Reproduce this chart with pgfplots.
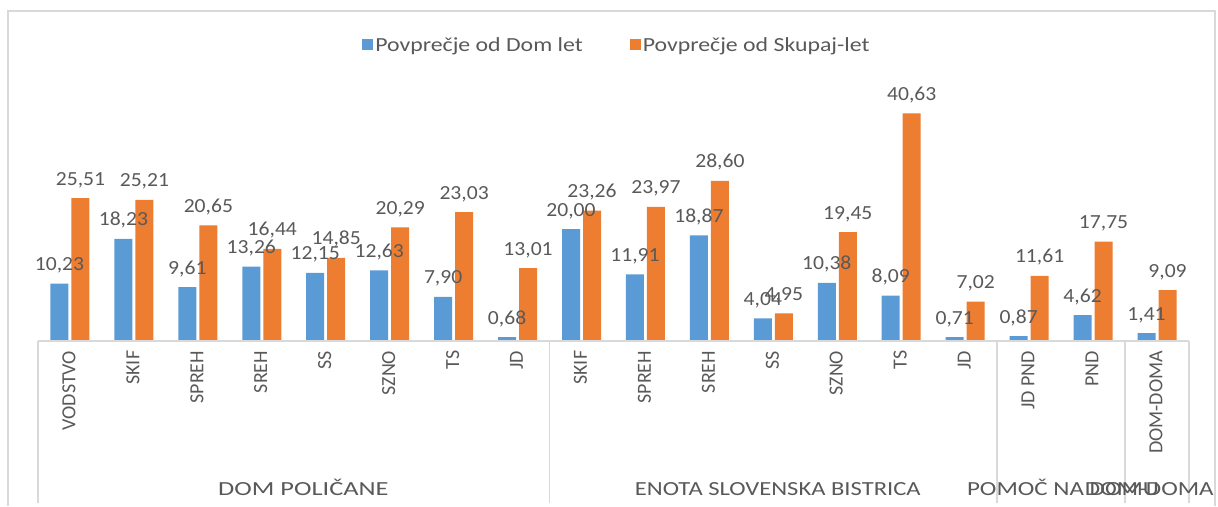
\documentclass[border=0pt]{standalone}
\usepackage{pgfplots}
\pgfplotsset{compat=1.18}
\usepackage{graphicx}
\usepackage{fontspec}
\setmainfont{Carlito}
\newfontfamily\lblfont{Carlito}[FakeStretch=1.08]
\newfontfamily\legfont{Carlito}[FakeStretch=1.19]
\definecolor{xblue}{HTML}{5B9BD5}
\definecolor{xorange}{HTML}{ED7D31}
\definecolor{xtext}{HTML}{595959}
\definecolor{xline}{HTML}{D9D9D9}
\begin{document}
\begin{tikzpicture}
\draw[xline, line width=1.5pt] (8pt,-506pt) -- (8pt,-11pt) -- (1215pt,-11pt) -- (1215pt,-506pt);
\begin{axis}[
  at={(38pt,-341pt)}, anchor=south west,
  scale only axis, width=1151pt, height=252pt,
  xmin=-0.5, xmax=17.5, ymin=0, ymax=45,
  clip=false,
  ybar=3pt, bar width=18pt,
  axis line style={draw=none},
  ytick=\empty,
  xtick={0,...,17},
  xtick style={draw=none},
  xticklabels={VODSTVO,SKIF,SPREH,SREH,SS,SZNO,TS,JD,SKIF,SPREH,SREH,SS,SZNO,TS,JD,JD PND,PND,DOM-DOMA},
  xticklabel style={rotate=90, anchor=east, font=\fontsize{20}{24}\selectfont, text=xtext, xshift=-2pt, yshift=1pt},
  nodes near coords,
  every node near coord/.append style={font=\fontsize{20}{24}\lblfont, text=xtext, anchor=base, yshift=13pt},
  /pgf/number format/.cd, fixed, fixed zerofill, precision=2, use comma, assume math mode=true, /pgfplots/.cd,
  legend style={at={(0.503,1.175)}, anchor=center, draw=none, fill=none, legend columns=2,
    font=\fontsize{20}{24}\legfont, text=xtext,
    /tikz/every even column/.append style={column sep=45pt}},
  legend image code/.code={\fill[#1] (0pt,-5.5pt) rectangle (11pt,5.5pt);},
]
\addplot[fill=xblue, draw=none] coordinates {
(0,10.23) (1,18.23) (2,9.61) (3,13.26) (4,12.15) (5,12.63) (6,7.90) (7,0.68)
(8,20.00) (9,11.91) (10,18.87) (11,4.04) (12,10.38) (13,8.09) (14,0.71)
(15,0.87) (16,4.62) (17,1.41)};
\addplot[fill=xorange, draw=none] coordinates {
(0,25.51) (1,25.21) (2,20.65) (3,16.44) (4,14.85) (5,20.29) (6,23.03) (7,13.01)
(8,23.26) (9,23.97) (10,28.60) (11,4.95) (12,19.45) (13,40.63) (14,7.02)
(15,11.61) (16,17.75) (17,9.09)};
\legend{Povprečje od Dom let, Povprečje od Skupaj-let}
\draw[xline, line width=1.5pt] (axis cs:-0.5,0) -- (axis cs:17.5,0);
\pgfplotsinvokeforeach{-0.5,7.5,14.5,16.5,17.5}{
  \draw[xline, line width=1.5pt] (axis cs:#1,0) -- ([yshift=-162pt]axis cs:#1,0);
}
\node[anchor=base, font=\fontsize{20}{24}\selectfont, text=xtext, inner sep=0pt] at ([yshift=-154pt]axis cs:3.65,0) {\scalebox{1.32}[1]{DOM POLIČANE}};
\node[anchor=base, font=\fontsize{20}{24}\selectfont, text=xtext, inner sep=0pt] at ([yshift=-154pt]axis cs:11.07,0) {\scalebox{1.23}[1]{ENOTA SLOVENSKA BISTRICA}};
\node[anchor=base, font=\fontsize{20}{24}\selectfont, text=xtext, inner sep=0pt] at ([yshift=-154pt]axis cs:15.53,0) {\scalebox{1.25}[1]{POMOČ NA DOMU}};
\node[anchor=base, font=\fontsize{20}{24}\selectfont, text=xtext, inner sep=0pt] at ([yshift=-154pt]axis cs:16.88,0) {\scalebox{1.25}[1]{DOM-DOMA}};
\end{axis}
\pgfresetboundingbox
\path[use as bounding box] (0,0) rectangle (1218pt,-506pt);
\end{tikzpicture}
\end{document}
